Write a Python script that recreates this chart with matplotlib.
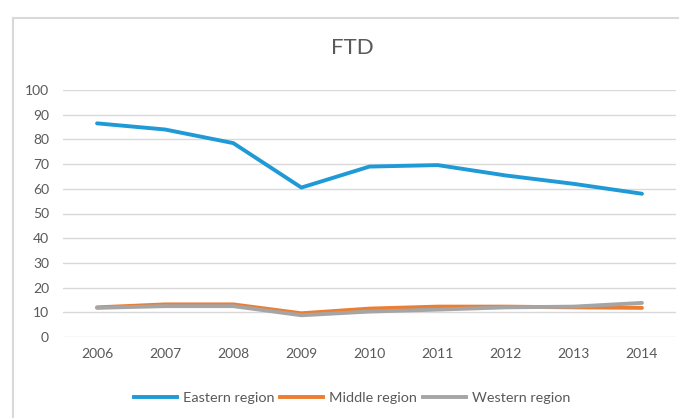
import matplotlib
matplotlib.use("Agg")
import matplotlib.pyplot as plt
from matplotlib.lines import Line2D

years = ["2006", "2007", "2008", "2009", "2010", "2011", "2012", "2013", "2014"]
eastern = [86.5, 84.0, 78.5, 60.5, 69.0, 69.6, 65.4, 62.0, 58.0]
middle = [12.0, 13.2, 13.2, 9.6, 11.5, 12.3, 12.3, 12.0, 11.8]
western = [11.8, 12.5, 12.5, 8.8, 10.3, 11.1, 12.0, 12.3, 13.8]
series_names = ["Eastern region", "Middle region", "Western region"]
colors = ["#1f9ad6", "#ed7d31", "#a5a5a5"]

plt.rcParams["font.family"] = ["Lato", "DejaVu Sans"]
text_color = "#595959"

fig = plt.figure(figsize=(6.79, 4.18), dpi=100)
ax = fig.add_axes([63 / 679, 1 - 337 / 418, (676 - 63) / 679, (337 - 90) / 418])

x = range(len(years))
for vals, name, c in zip([eastern, middle, western], series_names, colors):
    ax.plot(x, vals, color=c, linewidth=2.8, label=name, solid_capstyle="round")

ax.set_xlim(-0.5, len(years) - 0.5)
ax.set_ylim(0, 100)
ax.set_yticks(range(0, 101, 10))
ax.set_xticks(list(x))
ax.set_xticklabels(years)
ax.grid(axis="y", color="#d9d9d9", linewidth=1)
ax.set_axisbelow(True)
for s in ax.spines.values():
    s.set_visible(False)
ax.tick_params(length=0, colors=text_color, labelsize=10, pad=8)
ax.tick_params(axis="y", pad=10)

# chart-area border (left and top edges visible)
fig.add_artist(Line2D([13 / 679, 13 / 679], [0, 1 - 18 / 418], color="#d9d9d9", linewidth=1.5))
fig.add_artist(Line2D([13 / 679, 1], [1 - 18 / 418, 1 - 18 / 418], color="#d9d9d9", linewidth=1.5))

fig.text(352 / 679, 1 - 48 / 418, "FTD", ha="center", va="center", fontsize=16, color=text_color)

handles = [Line2D([0], [0], color=c, linewidth=2.8) for c in colors]
fig.legend(handles, series_names, loc="center", bbox_to_anchor=(352 / 679, 1 - 398 / 418),
           ncol=3, frameon=False, fontsize=10.4, labelcolor=text_color,
           handlelength=3.0, handletextpad=0.4, columnspacing=0.4)

fig.savefig("out.png", dpi=100)
